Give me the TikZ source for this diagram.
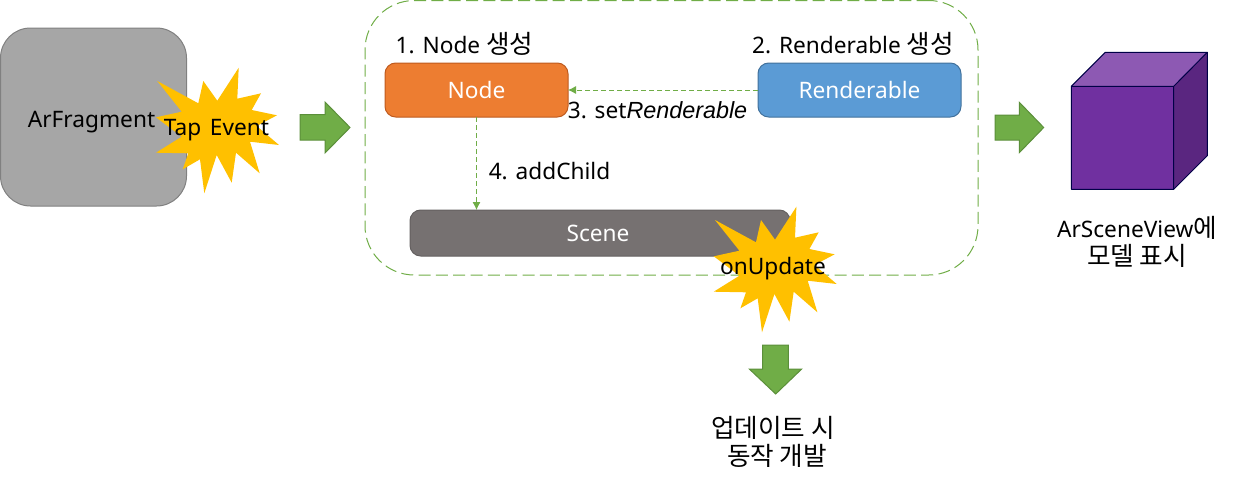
\documentclass[tikz,border=0pt]{standalone}
\usepackage{fontspec}
\setmainfont{Noto Sans}
\newfontfamily\kr[Scale=1.13]{Noto Sans CJK KR}
\newfontfamily\itl[Scale=1.03]{Liberation Sans Italic}
\usetikzlibrary{arrows.meta}
\definecolor{grn}{HTML}{70AD47}
\definecolor{grnb}{HTML}{5B8F3A}
\definecolor{gold}{HTML}{FFC000}
\tikzset{
  txt/.style={font=\fontsize{17}{21}\selectfont, text=black, inner sep=0pt, align=center},
  wtxt/.style={txt, text=white},
  box/.style={rounded corners=#1, line width=0.75pt, inner sep=0pt, outer sep=0pt},
  flow/.style={draw=grn, line width=0.6pt, dashed, dash pattern=on 4pt off 2pt, -{Latex[length=6pt,width=6pt]}},
  fat/.style={fill=grn, draw=grnb, line width=0.75pt},
  burstshape/.style={fill=gold, draw=none},
  cubeedge/.style={draw=black!20!blue!35!black, line width=0.75pt, line join=round}
}
\newcommand{\burstat}[2]{%
  \fill[burstshape, shift={(#1,#2)}]
  (157.3,81)--(198.3,103.3)--(203.3,81)--(217.3,100.7)--(238.7,67.7)--(237.3,98.7)--(261,93.3)--(251.7,110)--(277,115.3)--(256.7,126)--(279,145)--(250,141.7)--(259.7,173.3)--(236,152.7)--(231.7,182.7)--(216.7,155)--(204.3,193.3)--(200,159.3)--(182.7,169.3)--(188.3,153.3)--(156,152.7)--(181.7,136.7)--(156,117.3)--(181.7,111.7)--cycle;}
\begin{document}
\begin{tikzpicture}[x=0.75pt,y=-0.75pt]
\useasboundingbox (0,0) rectangle (1235,486);
% left block
\node[box=22.5pt, fill=black!35, draw=black!50, minimum width=186*0.75pt, minimum height=178*0.75pt] (frag) at (93.5,117) {};
\node[txt] (fraglabel) at (91.5,122) {ArFragment};
\burstat{0}{0}
\node[txt] (tap) at (216.5,130) {Tap\hspace{2pt} Event};
\draw[fat] (300,114.7)--(325,114.7)--(325,102)--(350,127.5)--(325,153)--(325,140)--(300,140)--cycle;
% group
\node[box=37pt, draw=grn, dashed, dash pattern=on 9pt off 4pt, minimum width=613*0.75pt, minimum height=274.5*0.75pt] (group) at (671.5,0.5+137.25) {};
\node[box=8pt, fill={rgb,255:red,237;green,125;blue,49}, draw={rgb,255:red,190;green,90;blue,30}, minimum width=183*0.75pt, minimum height=54*0.75pt, wtxt] (nodebox) at (476.5,90) {Node};
\node[box=8pt, fill={rgb,255:red,91;green,155;blue,213}, draw={rgb,255:red,65;green,113;blue,156}, minimum width=203*0.75pt, minimum height=54*0.75pt, wtxt] (rend) at (859.5,90) {Renderable};
\node[box=8pt, fill={rgb,255:red,118;green,113;blue,113}, draw={rgb,255:red,100;green,96;blue,96}, minimum width=380*0.75pt, minimum height=46*0.75pt, wtxt] (scene) at (600,233) {};
\node[wtxt] (scenelabel) at (598,233) {Scene};
\draw[flow] (rend.west) -- (nodebox.east);
\draw[flow] (nodebox.south) -- (nodebox.south |- scene.north);
\node[txt] (l1) at (464.5,44) {1. Node {\kr 생성}};
\node[txt] (l2) at (853,44) {2. Renderable {\kr 생성}};
\node[txt] (l3) at (657.5,110) {3. set{\itl Renderable}};
\node[txt] (l4) at (549.5,171) {4. addChild};
\burstat{557.7}{139}
\node[txt] (upd) at (773,269) {onUpdate};
\draw[fat] (762.7,345)--(788.3,345)--(788.3,369)--(801.7,369)--(775.7,394)--(749.3,369)--(762.7,369)--cycle;
\node[txt,font=\fontsize{17}{21}\selectfont\kr] (res) at (773,442) {업데이트 시\\\hspace*{6pt}동작 개발};
% right
\draw[fat] (995,115)--(1019.3,115)--(1019.3,102.3)--(1043.7,127.5)--(1019.3,152.7)--(1019.3,140)--(995,140)--cycle;
\fill[fill={rgb,255:red,112;green,48;blue,160}] (1071.3,86.3) rectangle (1173.7,189.3);
\fill[fill={rgb,255:red,141;green,89;blue,179}] (1071.3,86.3)--(1105.3,52.3)--(1207.3,52.3)--(1173.7,86.3)--cycle;
\fill[fill={rgb,255:red,90;green,38;blue,128}] (1173.7,86.3)--(1207.3,52.3)--(1207.3,155.7)--(1173.7,189.3)--cycle;
\draw[cubeedge] (1071.3,86.3)--(1105.3,52.3)--(1207.3,52.3)--(1207.3,155.7)--(1173.7,189.3)--(1071.3,189.3)--cycle;
\draw[cubeedge] (1071.3,86.3)--(1173.7,86.3)--(1173.7,189.3) (1173.7,86.3)--(1207.3,52.3);
\node[txt] (view) at (1137,242) {ArSceneView{\kr 에}\\{\kr 모델 표시}};
\end{tikzpicture}
\end{document}
